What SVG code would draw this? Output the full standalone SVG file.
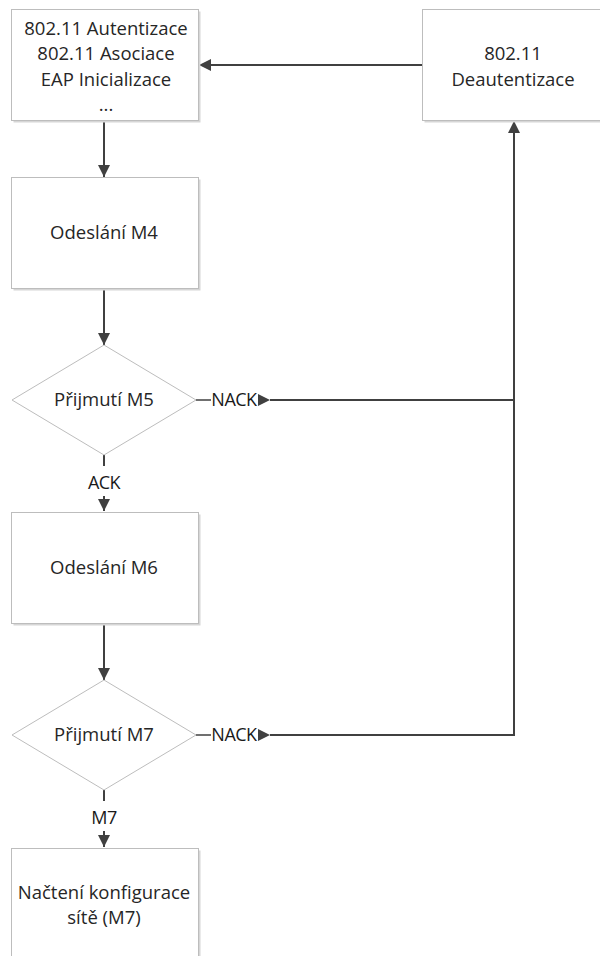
<svg xmlns="http://www.w3.org/2000/svg" width="600" height="956" viewBox="0 0 600 956">
<style>
.box{fill:#ffffff;stroke:#bdbdbd;stroke-width:1}
.sh{fill:#d6d6d6}
.t{font-family:"Open Sans","Noto Sans","DejaVu Sans",sans-serif;font-size:18.5px;fill:#262626;text-anchor:middle}
.lb{font-size:18px;fill:#1a1a1a;letter-spacing:-0.5px}
.c{fill:none;stroke:#404040;stroke-width:2}
.ah{fill:#404040}
</style>
<defs>
<marker id="arr" viewBox="0 0 10 10" refX="10" refY="5" markerWidth="6" markerHeight="6" orient="auto" markerUnits="strokeWidth">
<path d="M0,0 L10,5 L0,10 Z" class="ah"/>
</marker>
</defs>
<rect width="600" height="956" fill="#ffffff"/>

<g id="connectors">
<line class="c" x1="104" y1="121" x2="104" y2="177" marker-end="url(#arr)"/>
<line class="c" x1="104" y1="289" x2="104" y2="345" marker-end="url(#arr)"/>
<line class="c" x1="104" y1="455" x2="104" y2="466"/>
<line class="c" x1="104" y1="496" x2="104" y2="511" marker-end="url(#arr)"/>
<line class="c" x1="104" y1="624" x2="104" y2="680" marker-end="url(#arr)"/>
<line class="c" x1="104" y1="790" x2="104" y2="801"/>
<line class="c" x1="104" y1="831" x2="104" y2="847" marker-end="url(#arr)"/>
<line class="c" x1="422" y1="65" x2="199" y2="65" marker-end="url(#arr)"/>
<line class="c" x1="196" y1="400" x2="211" y2="400" style="stroke-width:1.5"/>
<path class="ah" d="M258,394 L270,400 L258,406 Z"/>
<line class="c" x1="270" y1="400" x2="514" y2="400"/>
<line class="c" x1="196" y1="735" x2="211" y2="735" style="stroke-width:1.5"/>
<path class="ah" d="M258,729 L270,735 L258,741 Z"/>
<polyline class="c" points="270,735 514,735 514,121" marker-end="url(#arr)"/>
<text class="t lb" x="234" y="406">NACK</text>
<text class="t lb" x="234" y="741">NACK</text>
<text class="t lb" x="104" y="489">ACK</text>
<text class="t lb" x="104" y="824">M7</text>
</g>

<g id="n1">
<rect class="sh" x="13.5" y="11.5" width="187" height="111"/>
<rect class="box" x="11.5" y="9.5" width="187" height="111"/>
<text class="t" x="106" y="35">802.11 Autentizace</text>
<text class="t" x="106" y="60">802.11 Asociace</text>
<text class="t" x="106" y="86">EAP Inicializace</text>
<text class="t" x="106" y="111">...</text>
</g>

<g id="n2">
<rect class="sh" x="424.5" y="11.5" width="190" height="111"/>
<rect class="box" x="422.5" y="9.5" width="190" height="111"/>
<text class="t" x="513" y="60">802.11</text>
<text class="t" x="513" y="86">Deautentizace</text>
</g>

<g id="n3">
<rect class="sh" x="13.5" y="179.5" width="187" height="111"/>
<rect class="box" x="11.5" y="177.5" width="187" height="111"/>
<text class="t" x="104" y="239">Odeslání M4</text>
</g>

<g id="n4">
<polygon class="box" points="104,345 196,400 104,455 12,400"/>
<text class="t" x="104" y="406">Přijmutí M5</text>
</g>

<g id="n5">
<rect class="sh" x="13.5" y="514.5" width="187" height="111"/>
<rect class="box" x="11.5" y="512.5" width="187" height="111"/>
<text class="t" x="104" y="574">Odeslání M6</text>
</g>

<g id="n6">
<polygon class="box" points="104,680 196,735 104,790 12,735"/>
<text class="t" x="104" y="741">Přijmutí M7</text>
</g>

<g id="n7">
<rect class="sh" x="13.5" y="850.5" width="187" height="120"/>
<rect class="box" x="11.5" y="848.5" width="187" height="120"/>
<text class="t" x="104" y="899">Načtení konfigurace</text>
<text class="t" x="104" y="924">sítě (M7)</text>
</g>
</svg>
